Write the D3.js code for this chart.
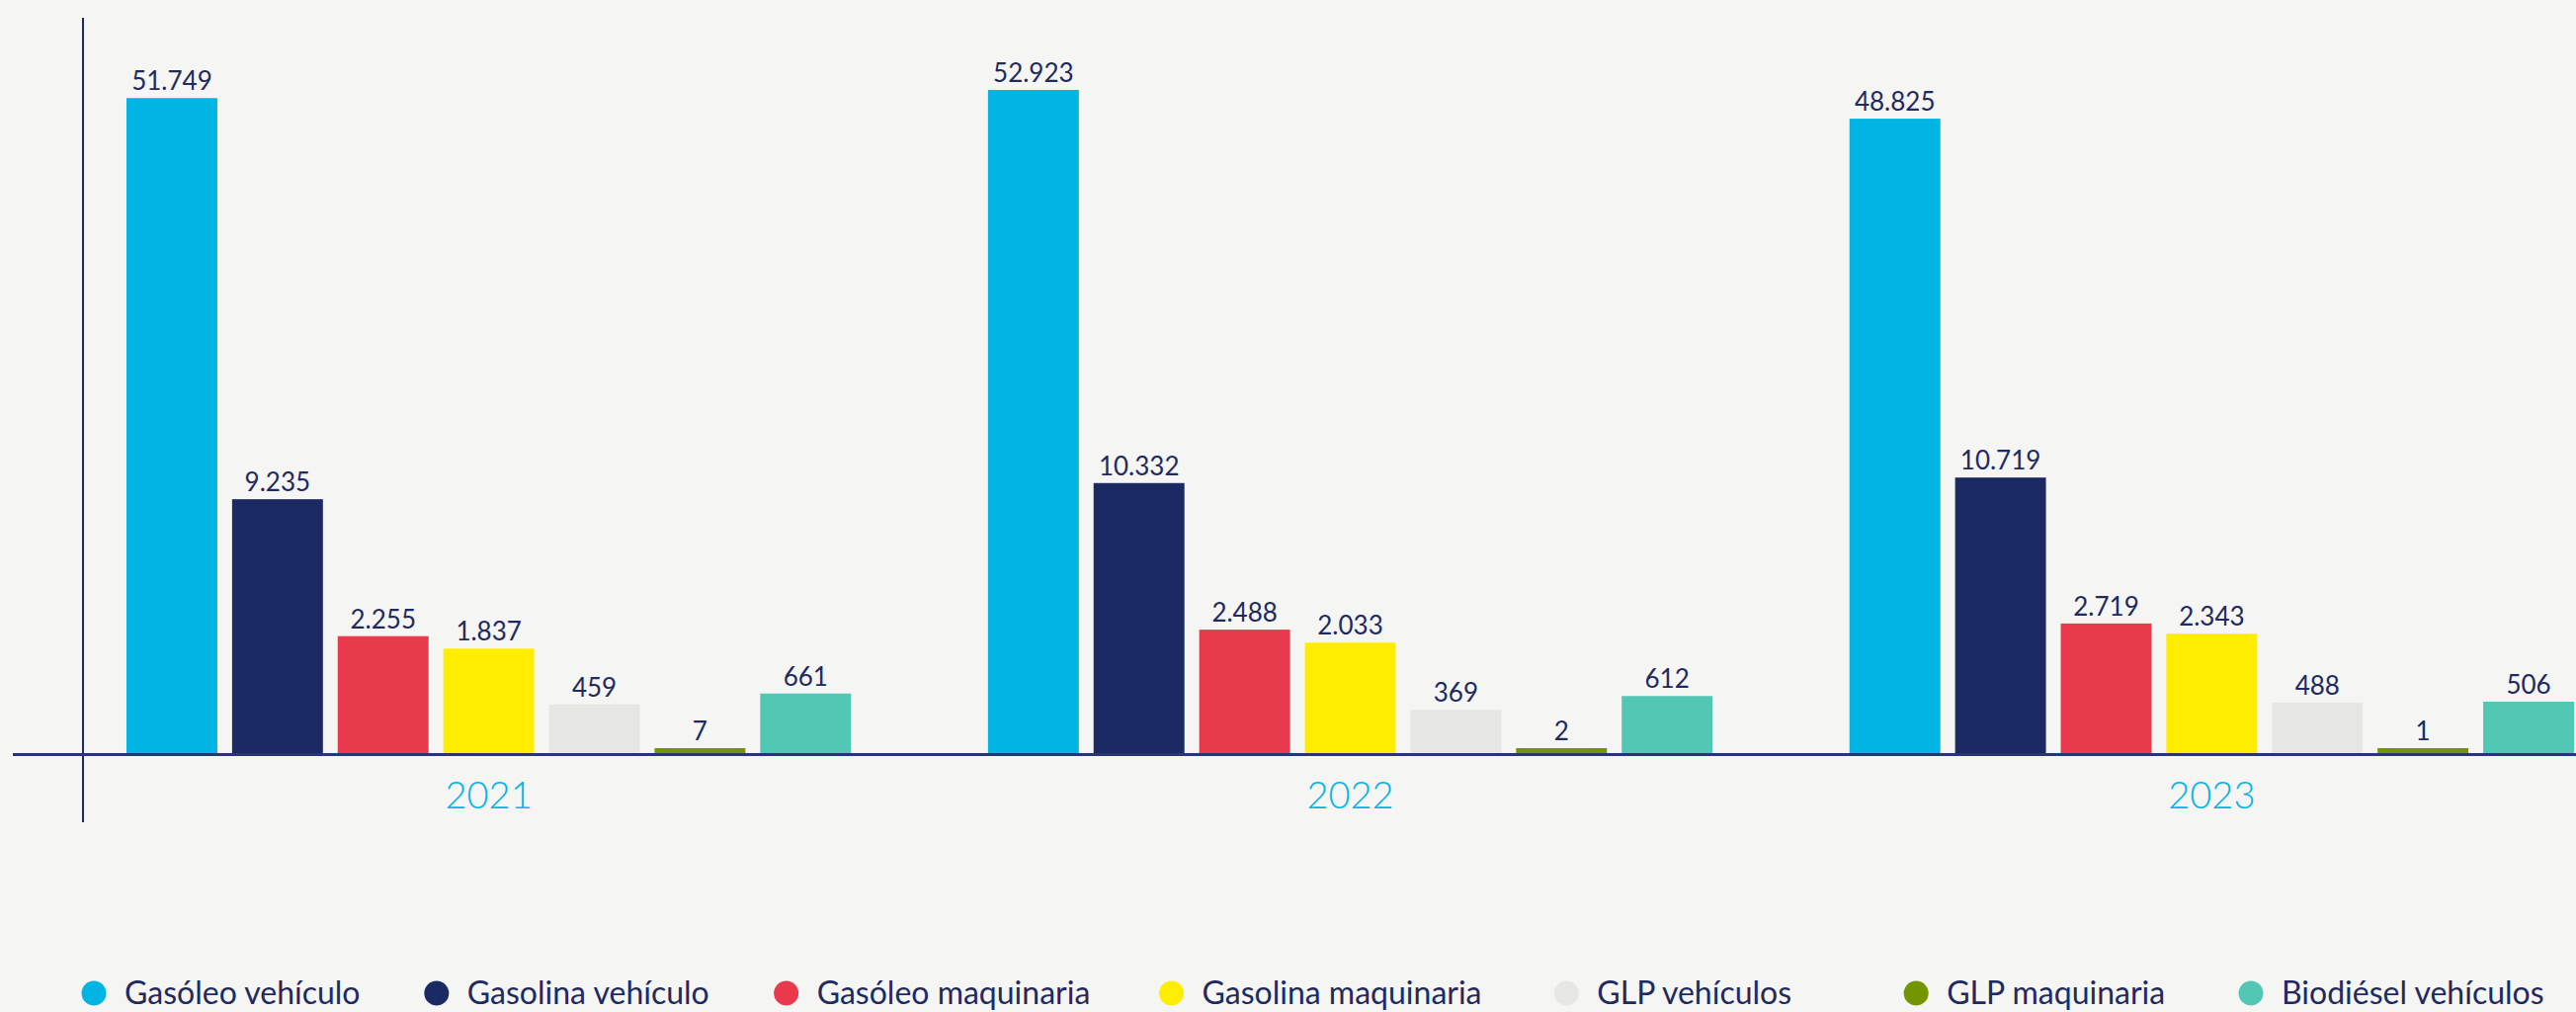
<!DOCTYPE html>
<html>
<head>
<meta charset="utf-8">
<script src="https://cdn.jsdelivr.net/npm/d3@7"></script>
<style>
  html, body { margin: 0; padding: 0; background: #f5f5f3; }
  svg { display: block; }
  text { font-family: Lato, "Open Sans", sans-serif; }
</style>
</head>
<body>
<svg id="chart" width="2607" height="1024"></svg>
<script>
// ---- data ----
const years = ["2021", "2022", "2023"];
const series = ["Gasóleo vehículo", "Gasolina vehículo", "Gasóleo maquinaria", "Gasolina maquinaria", "GLP vehículos", "GLP maquinaria", "Biodiésel vehículos"];
const colors = ["#00b4e4", "#1c2a64", "#e8394d", "#ffed00", "#e6e6e4", "#739600", "#52c8b4"];
const values2021 = [51749, 9235, 2255, 1837, 459, 7, 661];
const values2022 = [52923, 10332, 2488, 2033, 369, 2, 612];
const values2023 = [48825, 10719, 2719, 2343, 488, 1, 506];
const valuesByYear = [values2021, values2022, values2023];

// ---- layout ----
const W = 2607, H = 1024;
const baseY = 762;
const svg = d3.select("#chart");
svg.append("rect").attr("width", W).attr("height", H).attr("fill", "#f5f5f3");

const x0 = d3.scaleBand().domain(years).range([128, 2605]).paddingInner(0.159);
const x1 = d3.scaleBand().domain(series).range([0, x0.bandwidth()]).paddingInner(0.14);
const y = d3.scalePow().exponent(0.55).domain([0, 52923]).range([baseY, 91]);

const fmt = d3.formatLocale({decimal: ",", thousands: ".", grouping: [3], currency: ["", "€"]}).format(",d");

const rows = [];
years.forEach((yr, i) => series.forEach((s, j) => rows.push({year: yr, series: s, value: valuesByYear[i][j], color: colors[j]})));

const g = svg.append("g");
g.selectAll("rect.bar").data(rows).join("rect")
  .attr("class", "bar")
  .attr("x", d => x0(d.year) + x1(d.series))
  .attr("width", x1.bandwidth())
  .attr("y", d => Math.min(y(d.value), baseY - 5))
  .attr("height", d => Math.max(baseY - y(d.value), 5))
  .attr("fill", d => d.color);

g.selectAll("text.val").data(rows).join("text")
  .attr("class", "val")
  .attr("x", d => x0(d.year) + x1(d.series) + x1.bandwidth() / 2)
  .attr("y", d => Math.min(y(d.value), baseY - 5) - 8)
  .attr("text-anchor", "middle")
  .attr("font-size", 26)
  .attr("fill", "#1e2a60")
  .text(d => fmt(d.value));

// axes lines
svg.append("line").attr("x1", 84).attr("x2", 84).attr("y1", 18).attr("y2", 832)
  .attr("stroke", "#1e2a60").attr("stroke-width", 2);
svg.append("line").attr("x1", 13).attr("x2", W).attr("y1", baseY + 1.5).attr("y2", baseY + 1.5)
  .attr("stroke", "#2a3670").attr("stroke-width", 3);

// year labels
svg.selectAll("text.year").data(years).join("text")
  .attr("class", "year")
  .attr("x", d => x0(d) + x0.bandwidth() / 2)
  .attr("y", 818)
  .attr("text-anchor", "middle")
  .attr("font-size", 38)
  .attr("font-weight", 300)
  .attr("fill", "#00b4e4")
  .text(d => d);

// legend: item centres spread across the width
const legendX = d3.scalePoint().domain(series).range([95, 2278]);
const legendOffsets = [0, -17, -27, -1, 35, 25, 0]; // small nudges to follow the original spacing
const leg = svg.selectAll("g.leg").data(series).join("g")
  .attr("class", "leg")
  .attr("transform", (d, j) => `translate(${legendX(d) + legendOffsets[j]},1005)`);
leg.append("circle").attr("r", 12.5).attr("fill", (d, j) => colors[j]);
leg.append("text").attr("x", 31).attr("y", 11).attr("font-size", 32)
  .attr("fill", "#1e2a60").text(d => d);
</script>
</body>
</html>
